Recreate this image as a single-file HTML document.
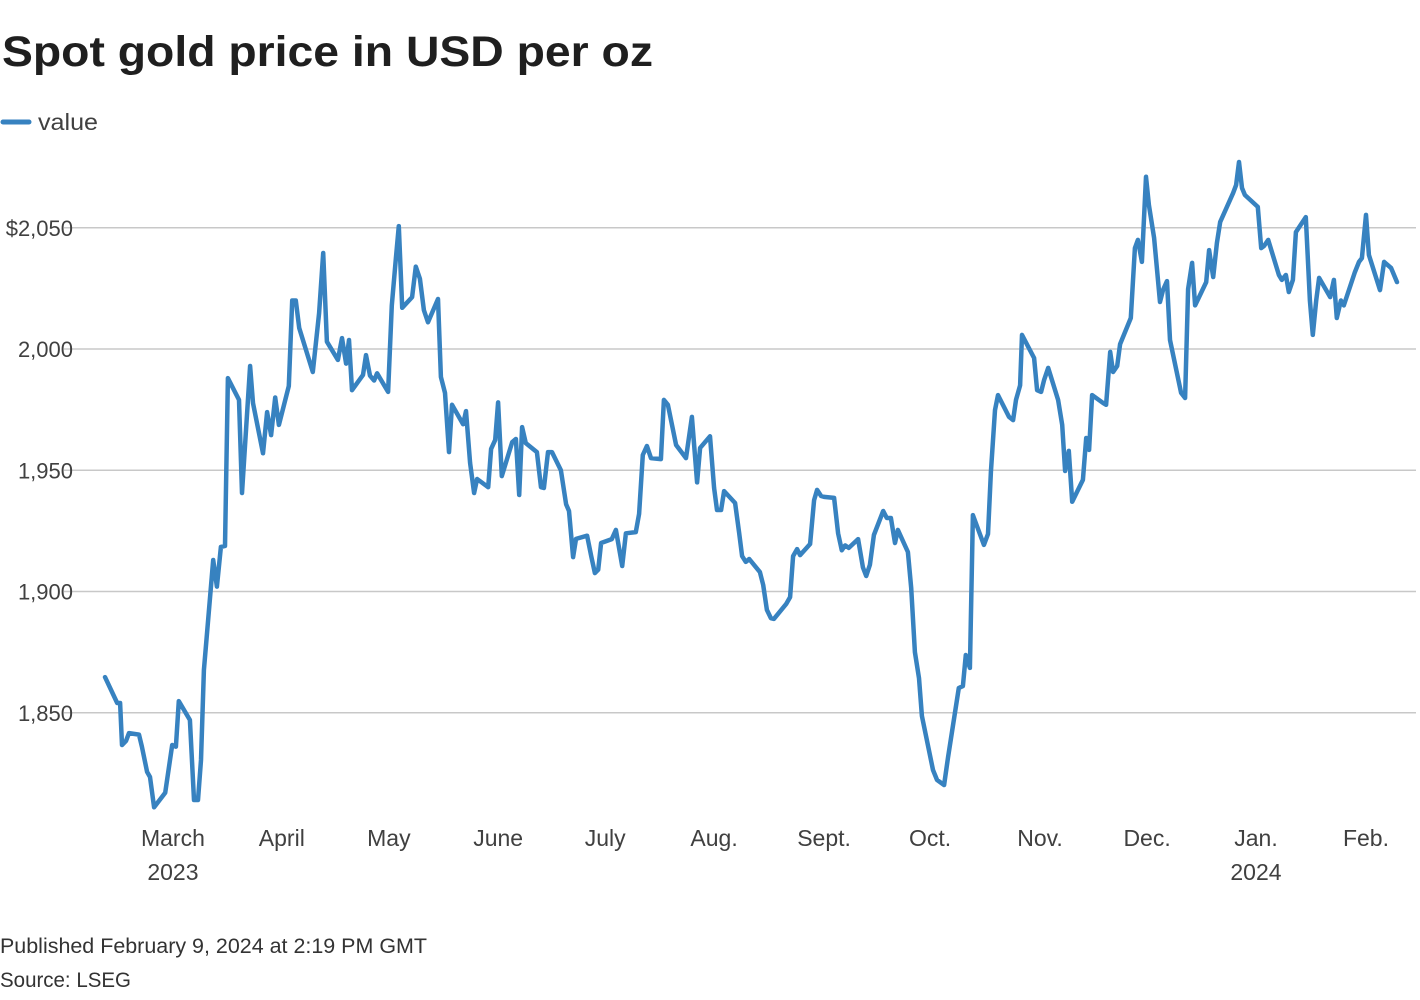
<!DOCTYPE html>
<html><head><meta charset="utf-8"><style>
html,body{margin:0;padding:0;background:#fff;}
svg{display:block;font-family:"Liberation Sans",sans-serif;}
</style></head><body>
<svg id="chart" width="1420" height="1000" viewBox="0 0 1420 1000" xmlns="http://www.w3.org/2000/svg">
<text x="2" y="66" font-size="43" font-weight="bold" fill="#1f1f1f" textLength="651" lengthAdjust="spacingAndGlyphs">Spot gold price in USD per oz</text>
<g>
<line x1="3" y1="122" x2="29" y2="122" stroke="#3782c0" stroke-width="5" stroke-linecap="round"/>
<text x="38" y="130" font-size="23" fill="#404040" textLength="60" lengthAdjust="spacingAndGlyphs">value</text>
</g>
<g id="grid"></g>
<g id="yticks"></g>
<g id="xticks"></g>
<path id="line" fill="none" stroke="#3782c0" stroke-width="4.5" stroke-linejoin="round" stroke-linecap="round"/>
<text x="0" y="953" font-size="21" fill="#333" textLength="427" lengthAdjust="spacingAndGlyphs">Published February 9, 2024 at 2:19 PM GMT</text>
<text x="0" y="987" font-size="21" fill="#333" textLength="131" lengthAdjust="spacingAndGlyphs">Source: LSEG</text>
</svg>
<script>
const days = [0,3.3,4.1,4.6,5.7,6.5,9.2,10.0,11.4,12.2,
13.3,16.3,18.2,19.2,20.0,23.0,24.1,25.2,26.0,26.8,
29.3,30.3,31.4,32.5,33.3,36.3,37.1,39.3,40.1,42.8,
43.9,45.0,46.1,47.1,49.8,50.7,51.7,52.6,56.3,58.0,
59.1,60.1,63.1,64.2,65.3,66.1,66.9,69.9,70.7,71.8,
72.9,73.7,76.7,77.7,78.8,79.6,80.5,83.2,84.2,85.3,
86.4,87.5,90.2,91.0,92.1,93.2,94.0,97.0,97.8,98.9,
100.0,100.8,103.8,104.6,105.7,106.5,107.5,110.3,111.3,112.2,
113.0,114.0,117.0,118.1,118.9,120.0,121.1,123.5,124.9,125.7,
126.8,127.6,130.6,131.7,132.7,133.6,134.4,137.3,138.4,140.1,
141.1,143.8,144.7,145.7,146.8,147.9,150.6,151.4,152.5,154.7,
157.4,159.0,160.4,161.2,163.9,165.0,165.8,166.9,167.7,170.7,
171.8,172.6,173.6,174.5,177.4,178.3,179.3,180.4,181.2,184.5,
185.6,186.4,187.5,188.3,191.0,192.1,192.9,194.0,194.8,197.5,
198.6,199.6,200.5,201.5,204.0,205.3,206.2,207.2,208.3,210.8,
211.8,212.9,214.0,214.8,217.5,218.4,219.4,220.5,221.3,224.3,
225.4,227.3,228.4,231.3,232.4,233.2,234.3,235.1,238.1,239.2,
240.0,241.1,241.9,244.9,246.0,246.8,247.9,248.4,251.7,252.5,
253.6,254.4,255.5,258.2,259.3,260.1,261.1,262.0,264.9,265.8,
266.6,267.4,270.4,271.2,272.3,273.1,274.2,275.0,277.9,279.0,
279.8,280.9,282.0,282.8,284.2,285.8,286.6,287.7,288.5,291.5,
292.6,293.4,294.5,295.3,298.3,299.1,300.2,301.2,302.1,305.6,
306.4,307.2,308.0,308.8,312.3,313.2,314.0,315.1,318.0,318.8,
319.9,320.7,321.8,322.6,325.3,326.4,327.2,328.1,328.9,331.9,
332.9,333.7,334.8,335.6,338.6,339.7,340.5,341.6,342.4,345.4,
346.5,348.4,350.0];
const prices = [1864.7,1854,1854,1836.7,1838.4,1841.6,1841,1836,1825.6,1823.5,
1811,1817,1836.7,1836,1854.8,1847,1814,1814,1830.5,1867.6,
1913,1902,1918.4,1918.8,1988,1979,1940.6,1993,1977.7,1957,
1974,1964.5,1980,1968.7,1984.7,2020,2020,2008.7,1990.5,2014.8,
2039.6,2003,1995.5,2004.5,1994,2003.7,1983,1989.3,1997.5,1989,
1987,1990,1982.3,2018,2037.5,2050.7,2017,2021.4,2034,2029,
2016,2011,2020.6,1988.5,1981.9,1957.5,1977,1969,1974.4,1953,
1940.6,1946.4,1943,1958.8,1962.5,1978,1947.6,1961.6,1962.9,1939.8,
1967.8,1961.2,1957.5,1943,1942.7,1957.5,1957.5,1950,1936,1933.2,
1914.2,1921.7,1923,1914.6,1907.6,1909,1920,1921.6,1925.4,1910.5,
1924,1924.5,1932,1956.3,1960,1955,1954.6,1979,1977,1960.4,
1955,1972,1945,1959.2,1964,1942.7,1933.6,1933.6,1941.4,1936.5,
1924,1914.6,1912.2,1913.4,1908,1902.7,1892.4,1889,1888.7,1894.8,
1897.7,1914.6,1917.5,1915,1919.6,1937.7,1941.9,1939.4,1939,1938.6,
1924,1917,1919,1918,1921.6,1910,1906.4,1911,1923.3,1933.2,
1930.3,1930.3,1920,1925.4,1916.3,1901.4,1875,1864.3,1848.7,1826.4,
1822.3,1820.2,1831.8,1860.2,1861,1873.8,1868.5,1931.5,1919.2,1923.7,
1949.3,1974.8,1981,1972,1970.7,1979,1985,2005.8,1996.3,1983,
1982.3,1987.2,1992.2,1979,1968.7,1949.7,1958,1937,1946,1963.3,
1958.4,1981,1977.7,1977,1998.8,1990.5,1993,2002,2012.8,2041.6,
2045,2035.9,2071,2059.4,2045.8,2019.4,2024.3,2028,2003.7,1981.9,
1979.8,2024.7,2035.5,2018,2027.6,2040.8,2029.7,2043.7,2052.4,2064.3,
2067.6,2077.1,2066.4,2063.5,2058.6,2041.6,2042.5,2045,2030.5,2028.5,
2030.5,2023.5,2028.5,2048.2,2054.4,2020,2005.8,2020,2029.3,2021.4,
2028.5,2012.8,2020,2018,2031.7,2035.9,2037.5,2055.3,2038.8,2024.3,
2035.9,2033.4,2027.6];
const yTicks = [1850,1900,1950,2000,2050];
const yTickLabels = ["1,850","1,900","1,950","2,000","$2,050"];
const monthLabels = ["March","April","May","June","July","Aug.","Sept.","Oct.","Nov.","Dec.","Jan.","Feb."];
const monthDays = [18.4,47.9,76.9,106.5,135.5,165,194.8,223.5,253.3,282.3,311.8,341.6];
const yearLabels = ["2023","","","","","","","","","","2024",""];

const NS="http://www.w3.org/2000/svg";
const xs = d => 105 + d*(1292/350);
const ys = v => 349 - (v-2000)*(121.25/50);

const grid=document.getElementById('grid'), yt=document.getElementById('yticks'), xt=document.getElementById('xticks');
yTicks.forEach((v,i)=>{
  const l=document.createElementNS(NS,'line');
  
  
  l.setAttribute('x1',64);l.setAttribute('x2',1416);
  l.setAttribute('y1',ys(v));l.setAttribute('y2',ys(v));
  l.setAttribute('stroke','#c8c8c8');l.setAttribute('stroke-width','1.5');
  grid.appendChild(l);
  const t=document.createElementNS(NS,'text');
  
  
  t.setAttribute('x',73);t.setAttribute('y',ys(v)+8);
  t.setAttribute('text-anchor','end');t.setAttribute('font-size','22');t.setAttribute('fill','#404040');
  t.textContent=yTickLabels[i];
  yt.appendChild(t);
});
monthLabels.forEach((m,i)=>{
  const t=document.createElementNS(NS,'text');
  
  
  t.setAttribute('x',xs(monthDays[i]));t.setAttribute('y',846);
  t.setAttribute('text-anchor','middle');t.setAttribute('font-size','23');t.setAttribute('fill','#404040');
  t.textContent=m;
  xt.appendChild(t);
  if(yearLabels[i]){
    const y=document.createElementNS(NS,'text');
    
    
    y.setAttribute('x',xs(monthDays[i]));y.setAttribute('y',880);
    y.setAttribute('text-anchor','middle');y.setAttribute('font-size','23');y.setAttribute('fill','#404040');
    y.textContent=yearLabels[i];
    xt.appendChild(y);
  }
});
let d='';
days.forEach((dd,i)=>{d+=(i?'L':'M')+xs(dd).toFixed(1)+','+ys(prices[i]).toFixed(1);});
document.getElementById('line').setAttribute('d',d);
</script>
</body></html>
